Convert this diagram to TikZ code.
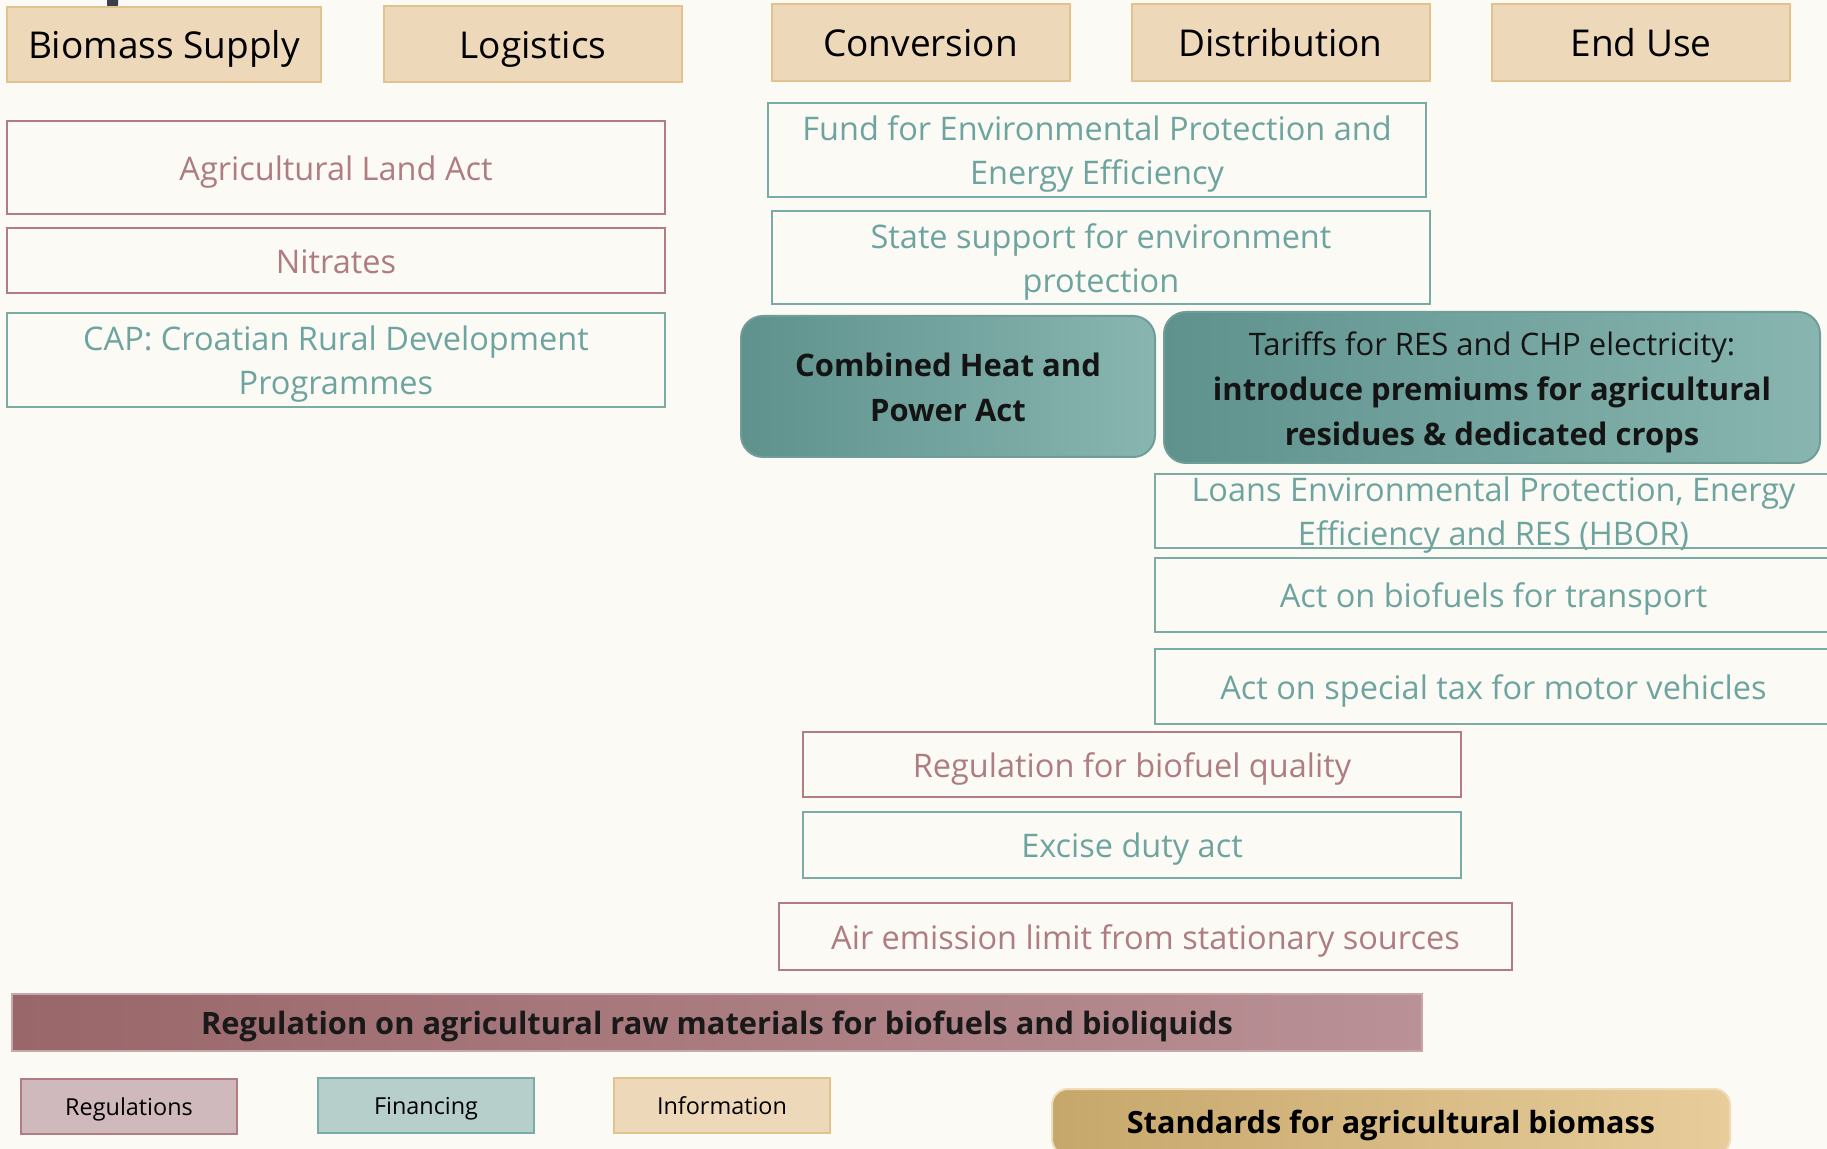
\documentclass[tikz,border=0pt]{standalone}
\usepackage{fontspec}
\setmainfont{Open Sans}
\definecolor{bgcream}{HTML}{FCFAF5}
\definecolor{tanfill}{HTML}{EDD8BA}
\definecolor{tanline}{HTML}{E2C28D}
\definecolor{roseline}{HTML}{B27D82}
\definecolor{rosetext}{HTML}{AE7C81}
\definecolor{tealline}{HTML}{7AABA6}
\definecolor{tealtext}{HTML}{6EA49F}
\definecolor{tealdark}{HTML}{5F928D}
\definecolor{teallight}{HTML}{88B5B0}
\definecolor{rosedark}{HTML}{996669}
\definecolor{roselight}{HTML}{B99196}
\definecolor{goldleft}{HTML}{C6A76B}
\definecolor{goldright}{HTML}{E8CD9B}
\definecolor{regfill}{HTML}{D0B9BC}
\definecolor{finfill}{HTML}{B6CFCB}
\definecolor{fragment}{HTML}{3B3F4B}
\newcommand{\lnstrut}{\rule[-0.293em]{0pt}{1.362em}}
\newcommand{\lines}[1]{\raisebox{-2pt}[\height][\depth]{\begin{tabular}{@{}c@{}}#1\end{tabular}}}
\begin{document}
\begin{tikzpicture}[x=0.5pt, y=-0.5pt,
    box/.style={rectangle, inner sep=0pt, line width=1pt, align=center, font=\fontsize{16.25}{22}\selectfont,
        execute at begin node={\lnstrut}, execute at end node={\lnstrut}},
    multi/.style={execute at begin node={}, execute at end node={}},
    stage/.style={box, fill=tanfill, draw=tanline, text=black, minimum width=149pt, minimum height=38.5pt, font=\fontsize{18.5}{24}\selectfont},
    regbox/.style={box, draw=roseline, text=rosetext},
    finbox/.style={box, draw=tealline, text=tealtext},
    keybox/.style={box, multi, rounded corners=11pt, draw=tealdark!90, left color=tealdark, right color=teallight, text=black!92, font=\fontsize{15.5}{22.5}\selectfont\bfseries},
    legend/.style={box, minimum width=108pt, minimum height=27.5pt, text=black, font=\fontsize{11.7}{14}\selectfont}]
    \useasboundingbox (0,0) rectangle (1827,1149);
    \fill[bgcream] (0,0) rectangle (1827,1149);
    \clip (0,0) rectangle (1827,1149);
    \fill[fragment, rounded corners=1pt] (107,-4) rectangle (118,7);

    \node[stage, minimum width=157pt, minimum height=37.5pt] (biomass) at (164,44.5) {Biomass Supply};
    \node[stage, minimum height=38pt] (logistics) at (533,44) {Logistics};
    \node[stage] (conversion) at (920.5,42.5) {Conversion};
    \node[stage] (distribution) at (1280.5,42.5) {Distribution};
    \node[stage] (enduse) at (1641,42.5) {End Use};

    \node[regbox, minimum width=329pt, minimum height=46.5pt] (landact) at (336,167.5) {Agricultural Land Act};
    \node[regbox, minimum width=329pt, minimum height=32.5pt] (nitrates) at (336,260.5) {Nitrates};
    \node[finbox, multi, minimum width=329pt, minimum height=47pt] (cap) at (336,360) {\lines{CAP: Croatian Rural Development\\Programmes}};

    \node[finbox, multi, minimum width=329pt, minimum height=47pt] (fund) at (1097,150) {\lines{Fund for Environmental Protection and\\Energy Efficiency}};
    \node[finbox, multi, minimum width=329pt, minimum height=46.5pt] (state) at (1101,257.5) {\lines{State support for environment\\protection}};

    \node[keybox, minimum width=207pt, minimum height=70.5pt] (chpact) at (948,386.5) {\lines{Combined Heat and\\Power Act}};
    \node[keybox, minimum width=328pt, minimum height=75.5pt] (tariffs) at (1492,387.5) {\lines{\mdseries Tariffs for RES and CHP electricity:\\introduce premiums for agricultural\\residues \& dedicated crops}};

    \node[finbox, multi, minimum width=338.5pt, minimum height=37pt] (loans) at (1493.5,511) {};
    \node[finbox, multi, draw=none] (loanstext) at (loans.center) {\lines{Loans Environmental Protection, Energy\\Efficiency and RES (HBOR)}};
    \node[finbox, minimum width=338.5pt, minimum height=37pt] (biofuels) at (1493.5,595) {Act on biofuels for transport};
    \node[finbox, minimum width=338.5pt, minimum height=37.5pt] (motortax) at (1493.5,686.5) {Act on special tax for motor vehicles};

    \node[regbox, minimum width=329pt, minimum height=32.5pt] (quality) at (1132,764.5) {Regulation for biofuel quality};
    \node[finbox, minimum width=329pt, minimum height=33pt] (excise) at (1132,845) {Excise duty act};
    \node[regbox, minimum width=366.5pt, minimum height=33.5pt] (airemission) at (1145.5,936.5) {Air emission limit from stationary sources};

    \node[box, minimum width=705pt, minimum height=28.5pt, draw=roselight!80, left color=rosedark, right color=roselight, text=black!90, font=\fontsize{15.4}{20}\selectfont\bfseries] (rawmat) at (717,1022.5) {Regulation on agricultural raw materials for biofuels and bioliquids};

    \node[legend, fill=regfill, draw=roseline] (legreg) at (129,1106.5) {Regulations};
    \node[legend, fill=finfill, draw=tealline] (legfin) at (426,1105.5) {Financing};
    \node[legend, fill=tanfill, draw=tanline] (leginfo) at (722,1105.5) {Information};

    \node[box, minimum width=339pt, minimum height=33pt, rounded corners=8pt, draw=goldright!70, left color=goldleft, right color=goldright, text=black, font=\fontsize{15.3}{20}\selectfont\bfseries] (standards) at (1391,1122) {Standards for agricultural biomass};
\end{tikzpicture}
\end{document}
